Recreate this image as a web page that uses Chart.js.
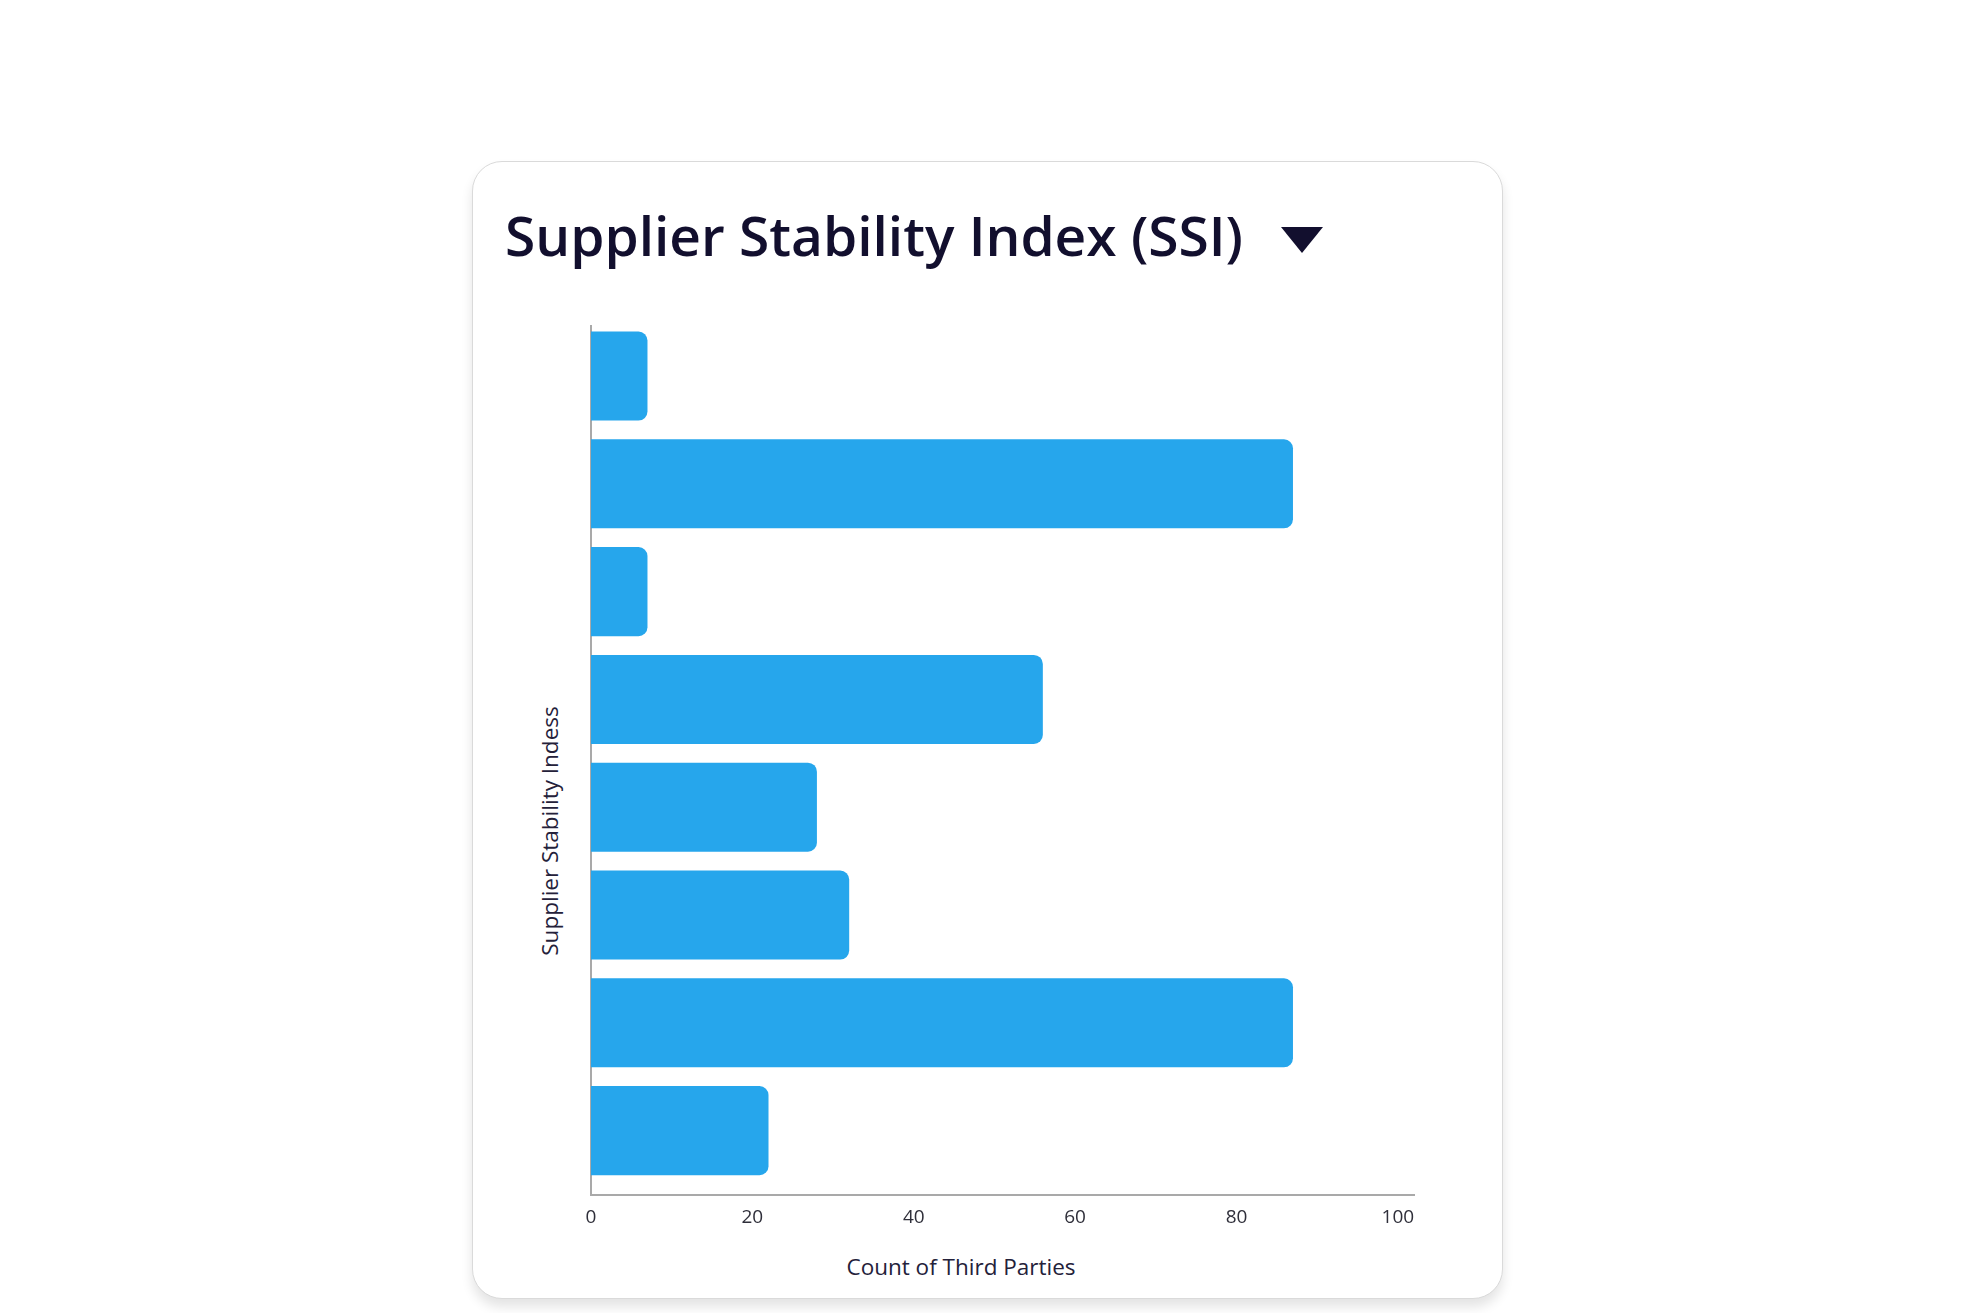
<!DOCTYPE html>
<html>
<head>
<meta charset="utf-8">
<title>Supplier Stability Index (SSI)</title>
<script src="https://cdn.jsdelivr.net/npm/chart.js@4.4.1/dist/chart.umd.min.js"></script>
<style>
  html, body { margin: 0; padding: 0; background: #ffffff; }
  body { width: 1975px; height: 1313px; position: relative; overflow: hidden; font-family: 'Open Sans', 'Noto Sans', sans-serif; }
  .card {
    position: absolute; left: 472px; top: 161px; width: 1031px; height: 1138px;
    box-sizing: border-box; background: #fff; border: 1px solid #dadada; border-radius: 30px;
    box-shadow: 0 8px 12px rgba(0,0,0,0.11);
  }
  .title {
    position: absolute; left: 505px; top: 207px; margin: 0;
    font-size: 55px; line-height: 55px; font-weight: 600; color: #120f2e; white-space: nowrap;
  }
  .caret {
    position: absolute; left: 1281px; top: 227px; width: 0; height: 0;
    border-left: 21px solid transparent; border-right: 21px solid transparent; border-top: 26px solid #120f2e;
  }
  .axis-title { position: absolute; font-size: 22.5px; line-height: 26px; color: #24213a; white-space: nowrap; }
  .x-title { left: 961px; top: 1254px; transform: translateX(-50%); }
  .y-title { left: 550px; top: 831px; transform: translate(-50%, -50%) rotate(-90deg); }
  #chart { position: absolute; left: 0; top: 0; }
</style>
</head>
<body>
<div class="card"></div>
<h1 class="title">Supplier Stability Index (SSI)</h1>
<div class="caret"></div>
<div class="axis-title x-title">Count of Third Parties</div>
<div class="axis-title y-title">Supplier Stability Indess</div>
<canvas id="chart" width="1975" height="1313"></canvas>
<script>
// Stability bands, top to bottom, and the number of third parties in each
const bands = ['Band 1', 'Band 2', 'Band 3', 'Band 4', 'Band 5', 'Band 6', 'Band 7', 'Band 8'];
const thirdPartyCounts = [7, 87, 7, 56, 28, 32, 87, 22];
const countTicks = [0, 20, 40, 60, 80, 100];

const barColor = '#26a6ec';
const axisColor = '#a9a9a9';

new Chart(document.getElementById('chart'), {
  type: 'bar',
  data: {
    datasets: [{
      label: 'Count of Third Parties',
      data: bands.map((band, i) => ({ x: thirdPartyCounts[i], y: i, band })),
      backgroundColor: barColor,
      borderWidth: 0,
      borderRadius: 9,
      borderSkipped: 'start',
      categoryPercentage: 1,
      barPercentage: 0.826
    }]
  },
  options: {
    indexAxis: 'y',
    responsive: false,
    animation: false,
    devicePixelRatio: 1,
    layout: { padding: { left: 591, right: 561, top: 326, bottom: 78 } },
    plugins: {
      legend: { display: false },
      tooltip: { enabled: false }
    },
    scales: {
      x: {
        type: 'linear',
        min: 0,
        max: 102,
        afterBuildTicks: s => { s.ticks = countTicks.map(v => ({ value: v })); },
        afterFit: s => { s.height = 40; },
        grid: { display: false, drawTicks: false },
        border: { display: true, color: axisColor, width: 2 },
        ticks: {
          padding: 11,
          maxRotation: 0,
          color: '#2f2f3a',
          font: { family: 'Open Sans', size: 19 }
        }
      },
      y: {
        type: 'linear',
        reverse: true,
        offset: false,
        min: -0.464,
        max: 7.597,
        // one slot per band
        afterBuildTicks: s => { s.ticks = bands.map((b, i) => ({ value: i })); },
        afterFit: s => { s.width = 0; },
        grid: { display: false, drawTicks: false },
        border: { display: true, color: axisColor, width: 2 },
        ticks: { display: false }
      }
    }
  }
});
</script>
</body>
</html>
